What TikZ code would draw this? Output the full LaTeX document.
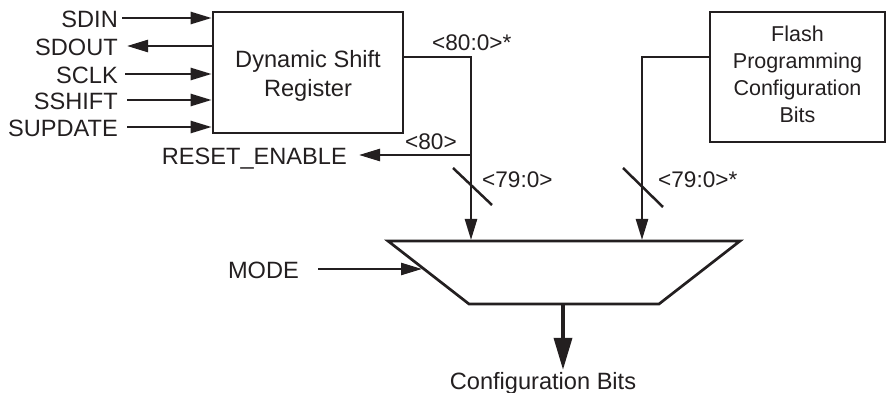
\documentclass[tikz,border=0pt]{standalone}
\usepackage{fontspec}
\setmainfont{Liberation Sans}
\usetikzlibrary{arrows.meta}
\definecolor{ink}{RGB}{35,31,32}
\begin{document}
\begin{tikzpicture}[x=1pt,y=-1pt,
  every node/.style={font=\fontsize{23.6}{29}\selectfont, inner sep=0pt, text=ink},
  blk/.style={draw=ink, line width=2.7pt},
  lab/.style={text height=19pt, text depth=0pt},
  bus/.style={anchor=base west, font=\fontsize{22.6}{27}\selectfont},
  wire/.style={draw=ink, line width=2.5pt},
  arr/.style={wire, -{Triangle[length=21pt,width=12pt]}},
  bigarr/.style={draw=ink, line width=3.6pt, -{Triangle[length=32pt,width=18pt]}},
]
\useasboundingbox (0,0) rectangle (887,393);

% blocks
\node[blk, minimum width=190pt, minimum height=121pt, align=center,
      font=\fontsize{23.6}{29}\selectfont] (dsr) at (308,72.5)
      {\rule{0pt}{24pt}Dynamic Shift\\Register};
\node[blk, minimum width=175pt, minimum height=130pt, align=center,
      font=\fontsize{21.5}{27}\selectfont] (flash) at (797.5,77)
      {Flash\\Programming\\Configuration\\Bits\rule[-5pt]{0pt}{5pt}};

% mux
\coordinate (mtl) at (388,241);
\coordinate (mtr) at (740,241);
\coordinate (mbr) at (659,304);
\coordinate (mbl) at (469,304);
\draw[blk] (mtl) -- (mtr) -- (mbr) -- (mbl) -- cycle;

% input labels
\node[lab, anchor=east] (sdin)    at (118,18)  {SDIN};
\node[lab, anchor=east] (sdout)   at (118,46)  {SDOUT};
\node[lab, anchor=east] (sclk)    at (118,74)  {SCLK};
\node[lab, anchor=east] (sshift)  at (118,100) {SSHIFT};
\node[lab, anchor=east] (supdate) at (118,127) {SUPDATE};

\draw[arr] ([xshift=4pt]sdin.east)    -- (sdin.east -| dsr.west);
\draw[arr] (sdout.east -| dsr.west)   -- ([xshift=9pt]sdout.east);
\draw[arr] ([xshift=7pt]sclk.east)    -- (sclk.east -| dsr.west);
\draw[arr] ([xshift=9pt]sshift.east)  -- (sshift.east -| dsr.west);
\draw[arr] ([xshift=9pt]supdate.east) -- (supdate.east -| dsr.west);

% DSR output bus
\coordinate (m1) at (471,240);
\coordinate (j1) at (471,155);
\draw[arr] ([yshift=15.5pt]dsr.east) -| (m1);
\node[bus] (l800) at (432,50.5) {<80:0>*};

% reset enable
\node[lab, anchor=east] (reset) at (347,155) {RESET\_ENABLE};
\draw[arr] (j1) -- ([xshift=12pt]reset.east);
\node[bus] (l80) at (405,149.5) {<80>};

% slash 1
\draw[wire] (453,168) -- (492,205);
\node[bus] (l790) at (482,188) {<79:0>};

% flash bus
\coordinate (m2) at (642,240);
\draw[arr] ([yshift=20pt]flash.west) -| (m2);
\draw[wire] (623,168) -- (663,207);
\node[bus] (l790s) at (658,188) {<79:0>*};

% mode
\node[lab, anchor=east] (mode) at (299,269) {MODE};
\coordinate (modein) at (422,269);
\draw[arr] ([xshift=19pt]mode.east) -- (modein);

% output
\coordinate (mout) at (563,304);
\node[lab, anchor=base] (cfg) at (543,389) {Configuration Bits};
\draw[bigarr] (mout) -- (mout |- cfg.north);
\end{tikzpicture}
\end{document}
